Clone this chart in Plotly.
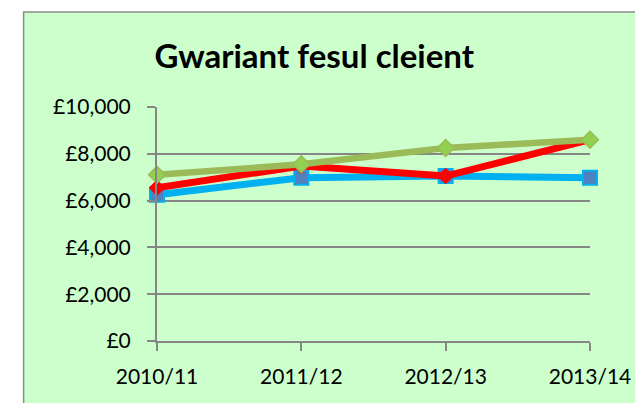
import plotly.graph_objects as go

categories = ["2010/11", "2011/12", "2012/13", "2013/14"]
series_blue = [6250, 6980, 7050, 6980]
series_red = [6550, 7480, 7050, 8600]
series_green = [7100, 7550, 8250, 8600]
y_tickvals = [0, 2000, 4000, 6000, 8000, 10000]
y_ticktext = ["£0", "£2,000", "£4,000", "£6,000", "£8,000", "£10,000"]
title_text = "Gwariant fesul cleient"

FONT = "Lato"

fig = go.Figure()
fig.add_trace(go.Scatter(
    x=categories, y=series_blue, mode="lines+markers",
    line=dict(color="#00B0F0", width=7),
    marker=dict(symbol="square", size=14, color="#4F81BD",
                line=dict(color="#00B0F0", width=2)),
    showlegend=False, cliponaxis=False))
fig.add_trace(go.Scatter(
    x=categories, y=series_red, mode="lines+markers",
    line=dict(color="#FF0000", width=7),
    marker=dict(symbol="diamond", size=12, color="#FF0000",
                line=dict(color="#FF0000", width=1)),
    showlegend=False, cliponaxis=False))
fig.add_trace(go.Scatter(
    x=categories, y=series_green, mode="lines+markers",
    line=dict(color="#9BBB59", width=6.5),
    marker=dict(symbol="diamond", size=13, color="#92D050",
                line=dict(color="#9BBB59", width=1.5)),
    showlegend=False, cliponaxis=False))

# page body has an 8px margin; figure coordinates are offset by it
OFF = 8
W, H = 643 - OFF, 403 - OFF
L, R, T, B = 157 - OFF, 51, 107 - OFF, 62
pw, ph = W - L - R, H - T - B

fig.add_shape(type="rect", xref="paper", yref="paper", layer="below",
              x0=(23 - OFF - L) / pw, x1=(W + 20 - L) / pw,
              y0=(H - B - (H + 20)) / ph, y1=(H - B - (12 - OFF)) / ph,
              fillcolor="#CCFFCC", line=dict(color="#8C8C8C", width=1.5))

fig.update_layout(
    width=W, height=H,
    margin=dict(l=L, r=R, t=T, b=B),
    paper_bgcolor="white", plot_bgcolor="rgba(0,0,0,0)",
    font=dict(family=FONT, color="black"),
    title=dict(text="<b>" + title_text + "</b>", x=(315 - OFF - L) / pw, xref="paper",
               xanchor="center", y=1 - (56 - OFF) / H, yanchor="middle",
               font=dict(family=FONT, size=33, color="black")),
    xaxis=dict(type="category", range=[0, 3], showgrid=False,
               showline=True, linecolor="#868686", linewidth=2,
               ticks="outside", ticklen=8, tickcolor="#868686", tickwidth=2,
               tickfont=dict(family=FONT, size=21, color="black"),
               ticklabelstandoff=8, zeroline=False),
    yaxis=dict(range=[0, 10000], tickvals=y_tickvals, ticktext=y_ticktext,
               showgrid=True, gridcolor="#868686", gridwidth=2,
               showline=True, linecolor="#868686", linewidth=2,
               ticks="outside", ticklen=8, tickcolor="#868686", tickwidth=2,
               tickfont=dict(family=FONT, size=21, color="black"),
               ticklabelstandoff=12, zeroline=False),
)

fig.write_html("out.html")
